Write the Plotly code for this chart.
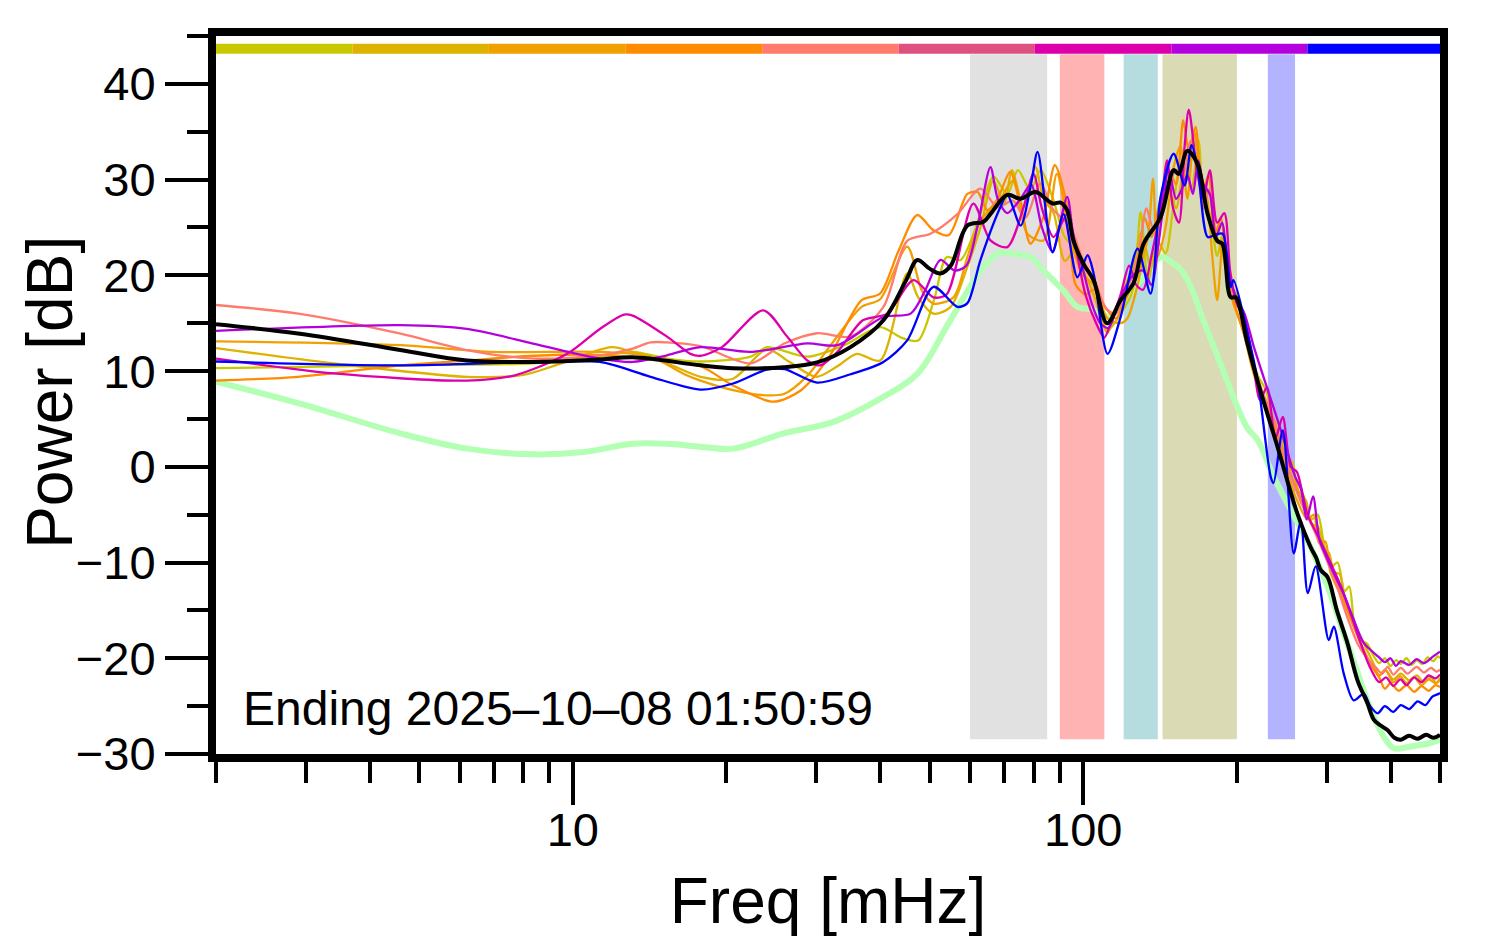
import plotly.graph_objects as go

# ---------------- data ----------------
green_f = [2.0, 2.92, 4.59, 6.2, 8.36, 10.5, 13.1, 15.3, 17.8, 20.6, 25.9, 32.4, 40.6, 47.3, 54.9, 63.8, 68.8, 71.0,
           78.8, 83.6, 91.5, 97.4, 104.8, 111.6, 118.0, 125.0, 135.0, 141.8, 150.4, 155.9, 163.1, 171.0, 180.0, 188.4,
           200.7, 210.0, 219.7, 236.0, 255.0, 279.0, 301.0, 324.0, 345.0, 366.0, 388.0, 406.0, 430.0, 452.0, 475.0,
           500.0]
green_db = [8.9, 6.6, 3.5, 1.9, 1.3, 1.55, 2.4, 2.4, 2.1, 1.9, 3.5, 4.7, 7.3, 9.7, 15.3, 20.9, 22.4, 22.3,
            21.9, 20.5, 18.4, 16.7, 16.4, 15.7, 16.5, 18.5, 20.5, 21.9, 21.2, 20.5, 18.6, 15.6, 12.6, 9.9,
            6.2, 4.0, 2.8, -1.0, -4.5, -8.4, -12.5, -17.4, -21.5, -25.4, -28.2, -29.4, -29.3, -29.1, -28.9,
            -28.5]

yellow_f = [2.0, 4.6, 8.4, 11.3, 13.1, 15.3, 17.8, 22.3, 24.0, 28.8, 34.0, 40.0, 44.0, 47.5, 51.0, 54.0, 57.5, 62.0,
            66.7, 71.0, 74.5, 78.8, 82.5, 87.5, 92.0, 97.4, 104.8, 111.6, 118.4, 125.0, 129.6, 134.0, 140.0, 145.0,
            150.0, 155.0, 160.0, 164.0, 168.0, 172.0, 177.0, 183.0, 188.0, 194.0, 200.0, 210.0, 220.0, 228.0, 236.0,
            243.0, 250.0, 257.0, 263.0, 270.0, 280.0, 288.0, 296.0, 305.0, 315.0, 325.0, 332.0, 339.0, 350.0, 360.0,
            371.0, 380.0, 390.0, 400.0, 410.0, 419.0, 430.0, 440.0, 450.0, 462.0, 473.0, 485.0, 495.0, 500.0]
yellow_db = [10.3, 10.6, 10.8, 11.5, 12.0, 11.3, 11.0, 11.5, 12.5, 11.5, 12.7, 14.6, 13.5, 13.2, 17.4, 21.9, 21.6, 25.4,
             30.3, 28.5, 31.0, 28.9, 31.0, 27.8, 24.0, 22.6, 19.1, 14.3, 16.0, 18.4, 26.6, 19.5, 23.5, 22.3,
             27.0, 31.5, 30.0, 33.0, 34.1, 27.5, 26.5, 22.0, 24.5, 19.0, 18.0, 13.0, 9.5, 8.0, 5.0,
             4.0, 1.0, 0.5, -2.5, -3.0, -5.5, -5.0, -8.0, -10.5, -10.0, -13.0, -12.5, -16.0, -18.1, -18.5,
             -19.8, -20.5, -20.0, -20.8, -20.2, -20.6, -20.0, -20.7, -20.2, -20.6, -19.9, -20.3, -19.8, -20.0]

gold_f = [2.0, 3.4, 6.2, 8.0, 9.5, 11.9, 13.1, 15.3, 17.8, 20.6, 24.0, 26.5, 30.0, 33.0, 36.0, 40.0, 45.2, 47.5, 50.9,
          55.0, 59.3, 62.9, 66.7, 70.0, 72.5, 76.4, 80.6, 83.6, 87.5, 92.0, 96.0, 100.1, 104.8, 111.6, 116.0, 121.0,
          125.5, 130.0, 135.5, 141.8, 147.0, 152.0, 158.0, 163.0, 167.5, 172.0, 177.0, 182.0, 188.0, 194.0, 200.0,
          210.0, 220.0, 236.0, 250.0, 258.0, 266.0, 273.0, 280.0, 288.0, 296.0, 303.0, 310.0, 318.0, 325.0, 340.0,
          355.0, 370.0, 380.0, 390.0, 405.0, 419.0, 435.0, 450.0, 465.0, 480.0, 492.0, 500.0]
gold_db = [12.4, 10.8, 9.4, 9.6, 10.8, 12.5, 12.0, 10.8, 9.4, 9.2, 12.3, 11.0, 9.4, 10.5, 11.8, 11.1, 20.2, 17.7, 16.0,
           16.7, 20.9, 25.0, 29.9, 27.5, 31.0, 27.1, 31.3, 28.0, 26.5, 21.5, 22.5, 20.5, 18.0, 14.0, 16.5, 19.0,
           21.0, 24.5, 21.0, 25.5, 29.0, 27.0, 31.5, 29.0, 33.0, 28.0, 29.0, 24.5, 22.0, 18.5, 17.5,
           12.5, 9.0, 4.5, 0.5, -0.5, -3.0, -3.5, -6.0, -6.2, -8.5, -9.0, -11.0, -11.2, -13.5, -16.5,
           -18.5, -20.5, -21.8, -21.2, -22.2, -21.6, -22.3, -21.8, -22.5, -22.0, -22.6, -22.0]

orange_f = [2.0, 4.6, 7.0, 11.3, 14.2, 16.5, 17.8, 20.6, 23.3, 25.9, 28.8, 31.8, 36.8, 40.0, 45.2, 48.3, 50.9, 55.7,
            59.3, 62.9, 68.8, 72.8, 77.7, 83.6, 88.8, 94.4, 100.0, 104.8, 111.6, 118.4, 122.0, 127.8, 131.0, 134.0,
            137.0, 140.0, 145.0, 150.0, 155.0, 160.0, 165.0, 170.0, 175.0, 179.0, 183.0, 188.0, 192.0, 197.0, 205.0,
            215.0, 230.0, 245.0, 260.0, 275.0, 283.0, 290.0, 298.0, 305.0, 320.0, 335.0, 350.0, 365.0, 380.0, 392.0,
            405.0, 418.0, 430.0, 445.0, 460.0, 475.0, 490.0, 500.0]
orange_db = [13.1, 12.7, 12.0, 12.0, 11.5, 9.7, 9.0, 8.0, 7.5, 7.6, 9.5, 12.5, 16.7, 17.5, 23.0, 18.4, 17.05, 17.7,
             21.9, 25.7, 28.0, 29.9, 24.35, 23.65, 30.6, 23.65, 20.0, 19.0, 15.5, 15.0, 15.5, 19.0, 22.0, 24.0,
             30.1, 22.0, 25.0, 31.0, 33.5, 28.0, 35.0, 30.0, 28.0, 22.0, 17.4, 24.0, 20.0, 17.0, 14.5,
             10.0, 5.5, 1.5, -3.0, -5.5, -5.0, -8.0, -7.8, -11.0, -13.5, -16.0, -18.5, -20.5, -21.8, -21.3,
             -22.5, -21.9, -22.6, -22.0, -22.8, -22.2, -22.6, -22.3]

darkorange_f = [2.0, 2.9, 4.6, 6.2, 8.4, 11.3, 14.2, 17.8, 20.6, 24.7, 28.0, 31.8, 36.8, 40.0, 43.5, 47.3, 50.9, 54.5,
                59.3, 62.1, 64.9, 68.0, 71.9, 75.4, 78.8, 83.6, 88.0, 93.1, 96.5, 101.0, 105.0, 111.0, 116.0, 121.0,
                127.0, 132.0, 136.0, 141.0, 147.0, 152.0, 157.0, 161.0, 166.0, 171.0, 176.0, 181.0, 186.0, 192.0,
                198.0, 206.0, 215.0, 228.0, 245.0, 260.0, 275.0, 290.0, 305.0, 320.0, 335.0, 350.0, 365.0, 380.0,
                390.0, 400.0, 415.0, 430.0, 445.0, 460.0, 475.0, 490.0, 500.0]
darkorange_db = [9.0, 9.4, 10.6, 11.1, 11.6, 11.7, 11.2, 10.5, 8.5, 6.8, 8.0, 11.5, 17.4, 18.1, 22.6, 26.3, 24.7, 24.2,
                 28.5, 28.7, 26.8, 28.0, 30.8, 27.5, 23.3, 26.1, 31.5, 27.1, 19.1, 18.0, 18.5, 16.5, 15.5, 17.5,
                 20.0, 26.0, 24.0, 27.5, 31.0, 29.5, 36.2, 33.0, 35.5, 28.5, 30.5, 24.0, 26.0, 19.5,
                 17.0, 14.0, 11.0, 6.5, 2.0, -2.0, -5.0, -7.5, -10.5, -13.0, -16.0, -18.5, -20.5, -22.0,
                 -23.2, -22.6, -23.4, -22.8, -23.5, -22.9, -23.4, -22.8, -23.0]

salmon_f = [2.0, 2.9, 4.6, 6.2, 8.4, 11.3, 13.1, 14.2, 15.3, 17.8, 22.3, 25.9, 30.1, 35.0, 40.6, 45.2, 50.2, 56.7,
            62.9, 67.9, 72.8, 77.0, 82.4, 87.0, 94.4, 100.0, 106.0, 111.0, 116.0, 122.0, 128.0, 133.0, 137.0, 141.0,
            147.0, 152.0, 157.0, 162.0, 167.0, 172.0, 177.0, 183.0, 189.0, 194.0, 200.0, 210.0, 222.0, 236.0, 250.0,
            266.0, 280.0, 296.0, 312.0, 328.0, 345.0, 360.0, 375.0, 385.0, 395.0, 405.0, 419.0, 432.0, 450.0, 465.0,
            480.0, 492.0, 500.0]
salmon_db = [16.9, 16.0, 13.9, 12.2, 11.3, 11.65, 12.35, 13.0, 13.0, 12.6, 10.8, 12.85, 13.95, 13.6, 16.7, 23.6, 24.35,
             26.4, 29.05, 27.1, 27.8, 26.0, 29.6, 27.0, 25.0, 21.5, 19.0, 16.5, 16.0, 18.5, 22.0, 27.0, 25.0, 25.5,
             29.0, 31.0, 30.5, 34.0, 31.5, 27.0, 29.0, 23.5, 23.0, 18.5, 17.5, 13.0, 8.5, 5.0, 0.5,
             -3.5, -6.0, -9.0, -12.0, -15.5, -18.5, -20.0, -21.0, -21.6, -20.9, -21.7, -21.0, -21.6, -20.9, -21.5,
             -21.0, -21.4, -21.2]

magenta_f = [2.0, 3.4, 6.2, 7.7, 9.75, 11.3, 12.6, 13.1, 15.3, 17.0, 17.8, 19.6, 23.6, 26.3, 28.8, 30.5, 33.0, 37.0,
             41.3, 46.5, 50.9, 54.0, 60.9, 65.8, 71.0, 76.4, 79.9, 83.0, 87.5, 93.1, 97.0, 101.0, 106.0, 110.0, 114.0,
             118.4, 123.0, 127.0, 131.0, 136.0, 141.8, 146.0, 150.0, 154.0, 158.0, 161.0, 167.0, 172.0, 177.0, 183.0,
             189.0, 194.0, 200.0, 207.0, 215.0, 222.0, 229.0, 238.0, 246.0, 255.0, 262.0, 268.0, 275.0, 290.0, 305.0,
             320.0, 335.0, 350.0, 365.0, 380.0, 392.0, 405.0, 418.0, 430.0, 445.0, 460.0, 475.0, 490.0, 500.0]
magenta_db = [11.3, 9.75, 9.0, 9.56, 11.8, 14.4, 15.9, 15.8, 13.6, 11.8, 11.6, 12.5, 16.35, 13.6, 11.1, 10.6, 12.0, 15.3,
              16.0, 19.5, 17.7, 18.0, 27.5, 23.65, 22.95, 27.1, 30.6, 27.0, 24.0, 26.4, 22.5, 18.0, 15.0, 13.5, 15.5,
              18.0, 21.0, 19.0, 18.5, 22.0, 27.0, 32.0, 27.0, 25.5, 33.5, 37.3, 31.0, 28.0, 31.0, 25.5,
              26.5, 20.5, 17.0, 15.5, 11.0, 7.0, 8.3, 3.0, 5.2, 0.0, -0.5, -2.4, -5.0, -7.5, -10.0,
              -12.5, -15.5, -18.5, -21.0, -22.5, -22.0, -22.9, -22.2, -22.8, -22.0, -22.5, -21.8, -22.1, -21.7]

purple_f = [2.0, 4.6, 6.2, 8.4, 11.3, 13.1, 15.3, 17.8, 22.3, 28.8, 33.0, 40.6, 45.9, 49.0, 52.5, 56.0, 59.0, 62.0,
            65.8, 68.0, 71.0, 75.4, 79.0, 83.0, 87.0, 93.0, 95.7, 100.0, 104.0, 108.0, 112.0, 118.0, 125.0, 131.0,
            136.0, 141.0, 147.0, 152.0, 156.0, 160.0, 164.0, 168.0, 172.0, 177.0, 182.0, 187.0, 193.0, 200.0, 207.0,
            216.0, 230.0, 245.0, 260.0, 267.0, 274.0, 282.0, 290.0, 300.0, 312.0, 325.0, 339.0, 355.0, 378.0, 390.0,
            400.0, 410.0, 419.0, 435.0, 450.0, 465.0, 485.0, 500.0]
purple_db = [14.2, 14.8, 14.4, 12.85, 11.3, 10.95, 11.65, 12.5, 12.0, 12.9, 12.7, 15.65, 16.0, 18.4, 21.6, 20.5, 21.0,
             25.0, 31.3, 28.0, 26.5, 28.0, 29.5, 25.0, 22.5, 28.2, 24.0, 20.5, 17.0, 15.0, 14.5, 17.5, 20.0, 20.5,
             19.0, 24.0, 31.0, 28.0, 29.0, 30.5, 28.5, 32.0, 29.5, 28.5, 24.0, 25.5, 20.0, 17.5, 16.0,
             12.5, 8.0, 3.5, -1.0, -2.3, -5.5, -3.1, -7.5, -9.5, -11.5, -13.5, -16.0, -18.45, -19.8, -20.4,
             -20.0, -20.8, -20.3, -20.7, -20.1, -20.5, -19.8, -19.3]

blue_f = [2.0, 4.6, 8.4, 11.3, 14.2, 17.8, 20.6, 24.0, 26.0, 30.1, 35.0, 40.6, 45.2, 50.9, 56.7, 59.3, 62.9, 68.8,
          71.0, 75.4, 79.0, 81.4, 87.1, 91.5, 97.4, 102.0, 104.8, 111.6, 118.4, 127.8, 135.5, 141.8, 150.4, 158.0,
          163.0, 167.5, 175.3, 181.0, 187.6, 194.5, 197.0, 210.0, 219.7, 233.0, 236.0, 246.0, 258.5, 266.8, 275.4,
          285.4, 302.7, 309.7, 323.9, 338.8, 354.6, 365.0, 377.6, 390.0, 405.0, 419.0, 435.0, 452.0, 468.0, 483.0,
          497.5, 500.0]
blue_db = [11.0, 10.6, 10.95, 10.95, 9.4, 8.07, 8.7, 10.15, 10.2, 8.8, 9.67, 10.95, 13.2, 18.8, 16.7, 17.1, 21.6, 27.1,
           28.4, 25.2, 29.5, 32.9, 22.4, 26.4, 19.8, 22.1, 20.2, 11.8, 15.65, 22.8, 18.1, 28.2, 32.7, 29.4,
           33.6, 31.3, 24.0, 24.2, 24.35, 18.8, 19.5, 13.9, 9.0, -1.05, -1.7, 3.8, -9.05, -5.6, -13.2,
           -10.4, -18.1, -16.7, -21.6, -24.4, -23.7, -25.0, -25.75, -25.0, -25.6, -24.9, -25.3, -24.5, -24.9, -24.0,
           -23.7, -23.6]

mean_f = [2.0, 2.92, 4.59, 6.2, 8.36, 11.3, 13.1, 17.8, 20.6, 25.9, 30.1, 35.0, 40.6, 45.0, 47.3, 50.0, 52.5, 55.0,
          59.3, 63.8, 66.0, 71.0, 75.4, 80.6, 87.1, 90.3, 93.0, 95.7, 100.1, 104.8, 111.4, 118.4, 125.5, 131.3,
          141.8, 150.4, 153.8, 159.9, 167.3, 175.1, 183.1, 187.3, 194.5, 198.9, 209.7, 219.4, 240.2, 262.8, 279.0,
          286.0, 292.0, 301.0, 314.0, 329.3, 344.6, 360.5, 370.9, 382.0, 394.5, 407.0, 419.0, 435.0, 451.7, 470.0,
          485.0, 500.0]
mean_db = [14.9, 13.9, 12.2, 11.1, 10.95, 11.2, 11.45, 10.6, 10.3, 10.4, 10.9, 12.5, 15.3, 19.5, 21.6, 20.7, 20.2, 21.0,
           25.2, 25.6, 26.5, 28.4, 28.0, 28.7, 27.5, 27.6, 26.8, 23.6, 21.2, 19.5, 15.0, 17.4, 19.2, 23.3,
           26.1, 31.0, 30.6, 33.0, 31.7, 26.5, 23.6, 23.3, 17.7, 17.7, 12.9, 9.0, 2.1, -4.9, -8.4,
           -9.5, -10.8, -11.5, -15.0, -18.4, -22.3, -24.7, -26.4, -27.0, -27.5, -28.3, -28.5, -28.1, -28.4, -28.0,
           -28.3, -28.0]

series_names = ["yellow", "gold", "orange", "darkorange", "salmon", "magenta", "purple", "blue"]
series_f = [yellow_f, gold_f, orange_f, darkorange_f, salmon_f, magenta_f, purple_f, blue_f]
series_db = [yellow_db, gold_db, orange_db, darkorange_db, salmon_db, magenta_db, purple_db, blue_db]
series_colors = ["#c8c800", "#ddb200", "#f0a000", "#ff8c00", "#ff7b6b", "#dd00aa", "#b400dd", "#0000ff"]

# shaded frequency bands (mHz)
band_lo = [60, 90, 120, 143, 230]
band_hi = [85, 110, 140, 200, 260]
band_colors = ["#e1e1e1", "#ffb3b3", "#b5dcdf", "#dadab4", "#b3b3ff"]

# top colour strip (mHz edges)
strip_edges = [2, 3.7, 6.85, 12.7, 23.5, 43.5, 80.4, 148.8, 275, 500]
strip_colors = ["#c8c800", "#ddb200", "#f0a000", "#ff8c00", "#ff7b6b", "#de5080", "#dd00aa", "#b400dd", "#0000ff"]

x_major = [10, 100]
x_minor = [2, 3, 4, 5, 6, 7, 8, 9, 20, 30, 40, 50, 60, 70, 80, 90, 200, 300, 400, 500]
y_major = [-30, -20, -10, 0, 10, 20, 30, 40]
y_minor = [-25, -15, -5, 5, 15, 25, 35, 45]

# ---------------- figure ----------------
fig = go.Figure()

for lo, hi, c in zip(band_lo, band_hi, band_colors):
    fig.add_shape(type="rect", xref="x", yref="y", x0=lo, x1=hi, y0=-28.45, y1=43.1,
                  fillcolor=c, line=dict(width=0), layer="below")

for lo, hi, c in zip(strip_edges[:-1], strip_edges[1:], strip_colors):
    fig.add_shape(type="rect", xref="x", yref="y", x0=lo, x1=hi, y0=43.15, y1=44.2,
                  fillcolor=c, line=dict(width=0), layer="below")

fig.add_trace(go.Scatter(x=green_f, y=green_db, mode="lines", line=dict(color="#b3ffb3", width=6, shape="spline"),
                         showlegend=False, hoverinfo="skip"))
for name, f, d, c in zip(series_names, series_f, series_db, series_colors):
    fig.add_trace(go.Scatter(x=f, y=d, mode="lines", name=name,
                             line=dict(color=c, width=2.3, shape="spline", smoothing=0.8),
                             showlegend=False))
fig.add_trace(go.Scatter(x=mean_f, y=mean_db, mode="lines", line=dict(color="black", width=4, shape="spline"),
                         showlegend=False))

fig.add_annotation(text="Ending 2025\u201310\u201308 01:50:59", xref="paper", yref="paper",
                   x=0.0205, y=0.064, xanchor="left", yanchor="middle", showarrow=False,
                   font=dict(family="Liberation Sans, Arial", size=48, color="black"))

axis_font = dict(family="Liberation Sans, Arial", size=47, color="black")
title_font = dict(family="Liberation Sans, Arial", size=64, color="black")

# y-axis title drawn as a rotated annotation near the left edge
fig.add_annotation(text="Power [dB]", xref="paper", yref="paper", x=-0.1356, y=0.503, borderpad=0,
                   xanchor="center", yanchor="middle", textangle=-90, showarrow=False, font=title_font)

fig.update_xaxes(type="log", range=[0.30103, 2.69897], showline=True, linewidth=8, linecolor="black", mirror=True,
                 showgrid=False, zeroline=False, tickmode="array", tickvals=x_major, automargin=False,
                 ticktext=[str(v) for v in x_major], ticks="outside", ticklen=43, tickwidth=4, tickcolor="black",
                 tickfont=axis_font, ticklabelstandoff=-15,
                 minor=dict(tickmode="array", tickvals=x_minor, ticks="outside", ticklen=21, tickwidth=4,
                            tickcolor="black", showgrid=False),
                 title=dict(text="Freq [mHz]", font=title_font, standoff=26))
fig.update_yaxes(range=[-30, 45], showline=True, linewidth=8, linecolor="black", mirror=True,
                 showgrid=False, zeroline=False, tickmode="array", tickvals=y_major, automargin=False,
                 ticktext=[("\u2212" + str(-v)) if v < 0 else str(v) for v in y_major],
                 ticks="outside", ticklen=43, tickwidth=4, tickcolor="black", tickfont=axis_font,
                 ticklabelstandoff=0,
                 minor=dict(tickmode="array", tickvals=y_minor, ticks="outside", ticklen=21, tickwidth=4,
                            tickcolor="black", showgrid=False))

fig.update_layout(width=1494, height=952, margin=dict(l=208, r=62, t=28, b=206),
                  plot_bgcolor="white", paper_bgcolor="white", showlegend=False)

fig.write_html("out.html")
